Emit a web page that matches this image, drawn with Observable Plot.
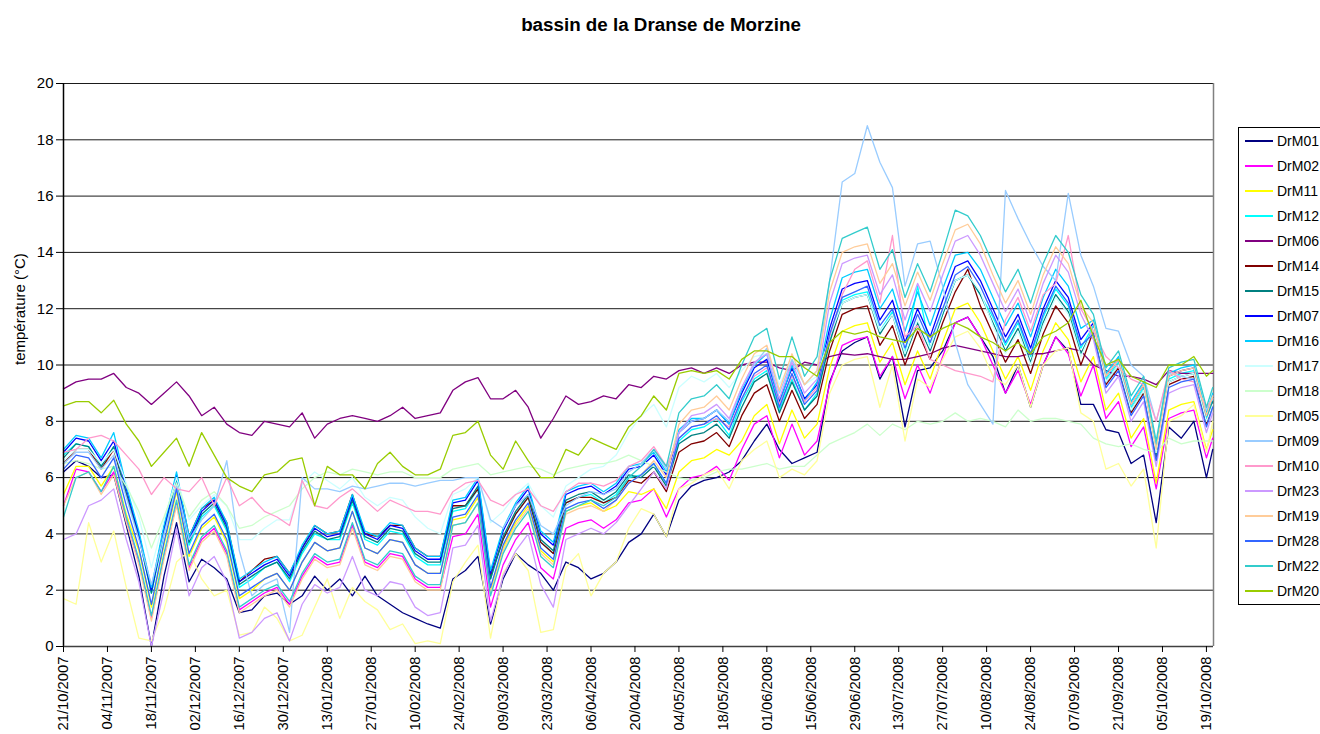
<!DOCTYPE html>
<html><head><meta charset="utf-8">
<script src="https://cdn.jsdelivr.net/npm/d3@7"></script>
<script src="https://cdn.jsdelivr.net/npm/@observablehq/plot@0.6"></script>
<style>
html,body{margin:0;padding:0;background:#fff;overflow:hidden;}
body{width:1320px;height:734px;position:relative;font-family:"Liberation Sans",Arial,sans-serif;color:#000;}
#title{position:absolute;left:0;top:0;width:1322px;height:50px;line-height:50px;text-align:center;font-weight:bold;font-size:18.8px;}
#chart{position:absolute;left:0;top:60px;}
#legend{position:absolute;left:1238px;top:127px;width:120px;height:478px;border:1px solid #000;background:#fff;box-sizing:border-box;}
.item{position:absolute;left:0;height:20px;width:120px;}
.item .sw{position:absolute;left:6px;top:9px;width:28px;height:2px;}
.item .lb{position:absolute;left:38px;top:0;line-height:20px;font-size:14px;}
</style></head>
<body>
<div id="title">bassin de la Dranse de Morzine</div>
<div id="chart"></div>
<div id="legend"></div>
<script>
// Series names and colours (legend order)
const seriesNames = ["DrM01","DrM02","DrM11","DrM12","DrM06","DrM14","DrM15","DrM07","DrM16","DrM17","DrM18","DrM05","DrM09","DrM10","DrM23","DrM19","DrM28","DrM22","DrM20"];
const seriesColors = ["#000080","#FF00FF","#FFFF00","#00FFFF","#800080","#800000","#008080","#0000FF","#00CCFF","#CCFFFF","#CCFFCC","#FFFF99","#99CCFF","#FF99CC","#CC99FF","#FFCC99","#3366FF","#33CCCC","#99CC00"];

// Tick labels of the date axis
const tickLabels = ["21/10/2007","04/11/2007","18/11/2007","02/12/2007","16/12/2007","30/12/2007","13/01/2008","27/01/2008","10/02/2008","24/02/2008","09/03/2008","23/03/2008","06/04/2008","20/04/2008","04/05/2008","18/05/2008","01/06/2008","15/06/2008","29/06/2008","13/07/2008","27/07/2008","10/08/2008","24/08/2008","07/09/2008","21/09/2008","05/10/2008","19/10/2008"];
const yTicks = [0,2,4,6,8,10,12,14,16,18,20];

// Sampling grid: days after 21/10/2007 (every 4 days, last at day 366)
const sampleDays = [0,4,8,12,16,20,24,28,32,36,40,44,48,52,56,60,64,68,72,76,80,84,88,92,96,100,104,108,112,116,120,124,128,132,136,140,144,148,152,156,160,164,168,172,176,180,184,188,192,196,200,204,208,212,216,220,224,228,232,236,240,244,248,252,256,260,264,268,272,276,280,284,288,292,296,300,304,308,312,316,320,324,328,332,336,340,344,348,352,356,360,364,366];

// Temperatures (°C)
const DrM01 = [6.2,6.6,6.4,6.0,6.1,4.3,2.5,0.0,2.5,4.4, 2.3,3.1,2.8,2.4,1.2,1.3,1.8,1.9,1.5,1.8, 2.5,2.0,2.4,1.8,2.5,1.8,1.5,1.2,1.0,0.8, 0.65,2.4,2.7,3.2,0.8,2.4,3.3,2.9,2.6,2.0, 3.0,2.8,2.4,2.6,3.0,3.7,4.0,4.7,3.9,5.2, 5.7,5.9,6.0,6.2,6.6,7.3,7.9,7.0,6.5,6.7, 6.9,9.4,10.5,10.8,11.0,9.5,10.3,7.8,9.8,9.9, 10.5,11.5,11.7,11.0, 10.3,9.0,10.0,8.5,10.0,11.0,10.5,8.6,8.6,7.7,7.6,6.5,6.8,4.4,7.8,7.4,8.0,6.0,7.0];
const DrM02 = [5.0,6.3,6.2,5.5,6.2,4.5,3.0,1.0,3.2,5.1, 2.8,3.8,4.2,3.3,1.3,1.6,1.9,2.1,1.5,2.5, 3.2,2.9,3.0,4.3,3.0,2.8,3.3,3.2,2.4,2.1, 2.1,3.9,4.0,4.7,1.4,2.9,3.8,4.4,2.8,2.4, 4.2,4.4,4.5,4.2,4.5,5.1,5.2,5.6,4.6,5.6, 6.0,6.1,6.4,5.9,7.0,7.9,8.2,6.7,7.9,6.8, 7.3,9.3,10.7,10.9,11.0,9.6,10.3,8.8,10.0,9.0, 10.3,11.5,11.7,11.0, 10.0,9.0,9.8,8.6,10.0,11.0,10.4,8.9,10.0,8.1,8.7,7.1,7.8,5.6,8.1,8.3,8.4,6.7,7.4];
const DrM11 = [5.4,6.4,6.4,5.7,6.4,4.7,3.4,1.4,3.6,5.5, 3.2,4.2,4.6,3.7,1.7,2.0,2.4,2.6,2.0,3.0, 3.7,3.4,3.5,4.8,3.5,3.3,3.8,3.7,2.9,2.6, 2.6,4.5,4.6,5.3,2.0,3.5,4.4,5.0,3.4,3.0, 4.8,5.0,5.1,4.8,5.0,5.5,5.4,5.6,4.9,6.2, 6.6,6.7,7.0,6.8,7.3,8.2,8.6,7.2,8.4,7.4, 7.9,9.9,11.2,11.4,11.5,10.1,10.8,9.3,10.5,9.5, 10.8,12.0,12.2,11.5, 10.5,9.5,10.3,9.1,10.5,11.5,10.9,9.4,10.3,8.4,9.0,7.4,8.1,5.8,8.4,8.6,8.7,7.0,7.7];
const DrM12 = [6.8,7.2,7.1,6.4,7.1,5.4,3.9,1.9,4.0,5.9, 3.6,4.6,5.0,4.1,2.1,2.4,2.8,3.0,2.3,3.3, 4.0,3.8,3.8,5.1,3.8,3.6,4.1,4.0,3.2,2.9, 2.9,4.8,4.9,5.6,2.4,3.8,4.7,5.3,3.7,3.3, 5.1,5.3,5.4,5.1,5.4,6.0,6.1,6.5,5.8,7.3, 7.7,7.8,8.1,7.5,8.7,9.5,9.8,8.4,9.5,8.4, 9.0,10.9,12.3,12.5,12.6,11.2,11.9,10.4,12.8,10.6, 11.8,13.0,13.2,12.5, 11.7,10.7,11.5,10.3,11.7,12.7,12.1,10.6,11.4,9.5,10.1,8.5,9.2,6.9,9.5,9.7,9.8,8.1,8.8];
const DrM06 = [9.15,9.4,9.5,9.5,9.7,9.2,9.0,8.6,9.0,9.4, 8.9,8.2,8.5,7.9,7.6,7.5,8.0,7.9,7.8,8.3, 7.4,7.9,8.1,8.2,8.1,8.0,8.2,8.5,8.1,8.2, 8.3,9.1,9.4,9.55,8.8,8.8,9.1,8.5,7.4,8.1, 8.9,8.6,8.7,8.9,8.8,9.3,9.2,9.6,9.5,9.8, 9.9,9.7,9.9,9.7,10.0,10.1,10.1,9.9,9.8,10.1, 10.0,10.3,10.4,10.35,10.4,10.3,10.2,10.2,10.3,10.4, 10.6,10.7,10.6,10.5,10.4,10.3,10.3,10.4,10.4,10.5, 10.6,10.5,10.0,9.8,9.6,9.6,9.5,9.3,9.8,9.7, 9.7,9.7,9.7];
const DrM14 = [6.5,7.0,7.0,6.3,7.0,5.4,4.0,2.0,4.2,6.1, 3.9,4.9,5.2,4.4,2.3,2.7,3.1,3.2,2.6,3.5, 4.3,4.0,4.1,5.4,4.0,3.9,4.3,4.3,3.5,3.2, 3.2,5.0,5.0,5.6,2.5,3.8,4.7,5.3,3.7,3.3, 5.1,5.3,5.3,5.1,5.3,5.9,5.8,6.2,5.5,6.9, 7.2,7.3,7.6,7.1,8.2,9.0,9.3,8.0,9.1,8.1, 8.6,10.5,11.8,12.0,12.1,10.7,11.4,10.0,11.2,10.2, 11.5,12.6,13.4,12.1, 11.1,10.1,10.9,9.7,11.1,12.1,11.5,10.0,11.2,9.3,9.9,8.3,9.0,6.7,9.3,9.5,9.6,7.9,8.6];
const DrM15 = [6.7,7.2,7.1,6.4,7.1,5.4,3.9,1.9,4.1,6.0, 3.7,4.7,5.1,4.2,2.2,2.5,2.8,3.0,2.4,3.4, 4.1,3.8,3.9,5.2,3.9,3.7,4.2,4.1,3.3,3.0, 3.0,4.9,5.0,5.7,2.4,3.9,4.8,5.4,3.8,3.4, 5.2,5.4,5.5,5.2,5.5,6.1,6.0,6.4,5.7,7.2, 7.5,7.6,7.9,7.4,8.5,9.4,9.7,8.3,9.4,8.4, 8.9,10.8,12.2,12.4,12.5,11.1,11.8,10.3,11.5,10.5, 11.8,13.0,13.2,12.5, 11.5,10.5,11.3,10.1,11.5,12.5,11.9,10.4,11.3,9.4,10.0,8.4,9.1,6.8,9.4,9.6,9.7,8.0,8.7];
const DrM07 = [6.9,7.4,7.3,6.6,7.3,5.6,4.0,2.0,4.2,6.1, 3.8,4.8,5.2,4.3,2.3,2.6,2.9,3.1,2.5,3.5, 4.2,3.9,4.0,5.3,4.0,3.8,4.3,4.2,3.4,3.1, 3.1,5.1,5.2,5.9,2.6,4.1,5.0,5.6,4.0,3.6, 5.4,5.6,5.7,5.4,5.7,6.3,6.4,6.8,6.1,7.6, 8.0,8.1,8.4,7.9,9.0,9.9,10.2,8.7,9.9,8.8, 9.3,11.3,12.7,12.9,13.0,11.6,12.3,10.8,12.0,11.0, 12.3,13.5,13.7,13.0, 12.0,11.0,11.8,10.6,12.0,13.0,12.4,10.9,11.5,9.6,10.2,8.6,9.3,7.0,9.6,9.8,9.9,8.2,8.9];
const DrM16 = [7.0,7.5,7.4,6.7,7.6,5.7,4.1,2.1,4.3,6.2, 3.9,4.9,5.3,4.4,2.4,2.7,3.0,3.2,2.6,3.6, 4.3,4.0,4.1,5.4,4.1,3.9,4.4,4.3,3.5,3.2, 3.2,5.2,5.3,6.0,2.7,4.2,5.1,5.7,4.1,3.7, 5.5,5.7,5.8,5.5,5.8,6.4,6.5,6.9,6.2,7.7, 8.1,8.1,8.4,7.9,9.1,10.0,10.4,8.6,10.0,8.7, 9.4,11.6,13.1,13.3,13.4,12.0,12.7,11.2,12.6,11.4, 12.7,13.9,14.0,13.4, 12.4,11.4,12.2,11.0,12.4,13.4,12.8,11.3,11.6,9.7,10.3,8.7,9.4,7.1,9.7,9.9,10.0,8.3,9.0];
const DrM17 = [6.6,7.0,7.0,6.5,7.0,5.8,4.6,2.8,4.5,6.0, 4.5,5.0,5.4,5.0,3.8,3.8,4.2,4.5,4.5,5.8, 6.2,5.9,5.6,6.0,5.3,5.0,5.3,5.2,4.6,4.2, 4.0,5.4,5.6,6.0,4.4,4.8,5.4,5.8,5.0,4.6, 5.7,6.0,6.3,6.4,6.8,7.6,8.2,8.6,7.8,9.2, 9.6,9.4,9.7,9.2,9.8,10.3,10.4,9.3,10.2,9.3, 9.6,11.0,12.2,12.4,12.5,11.2,11.8,10.4,11.6,10.6, 11.9,13.0,13.2,12.6, 11.4,10.4,11.2,10.0,11.4,12.4,11.8,10.3,11.3,9.4,10.0,8.4,9.1,6.9,9.4,9.6,9.7,8.0,8.6];
const DrM18 = [6.5,6.6,6.5,6.3,6.4,5.7,4.8,3.5,4.6,5.8, 4.6,5.2,5.5,5.0,4.2,4.3,4.6,4.8,5.0,5.6, 6.0,6.2,6.1,6.3,6.2,6.1,6.2,6.2,6.0,6.0, 6.0,6.3,6.4,6.5,6.1,6.2,6.3,6.4,6.3,6.1, 6.3,6.4,6.5,6.5,6.6,6.8,6.6,6.4,6.2,6.0, 5.9,6.0,6.2,6.3,6.3,6.4,6.5,6.3,6.4,6.4, 6.8,7.2,7.4,7.6,7.9,7.5,7.9,7.7,8.0,7.9, 8.0,8.3,8.0,8.1,8.0,7.8,8.4,8.0,8.1,8.1, 8.0,7.9,7.4,7.2,7.1,7.2,7.0,6.9,7.4,7.2, 7.3,7.3,7.3];
const DrM05 = [1.7,1.5,4.4,3.0,4.1,2.1,0.3,0.2,1.3,3.0, 3.4,2.4,1.8,2.0,0.4,0.5,1.4,1.0,0.2,0.4, 1.4,2.4,1.0,2.1,1.6,1.3,0.6,0.8,0.1,0.2, 0.1,2.3,3.0,3.6,0.3,2.6,3.3,2.7,0.5,0.6, 2.8,3.3,1.8,2.6,3.0,4.2,4.9,4.7,3.9,5.6, 5.8,6.1,6.3,5.6,6.6,7.0,7.3,6.0,6.3,6.1, 6.6,9.0,10.0,10.2,10.3,8.5,10.0,7.3,9.5,9.2, 10.2,11.0,11.2,10.6, 9.6,9.3,10.0,8.5,10.0,10.5,10.6,8.3,8.0,6.3,6.5,5.7,6.3,3.5,8.0,8.2,8.6,6.9,8.0];
const DrM09 = [6.5,6.9,6.9,6.3,6.8,5.3,3.8,2.2,4.0,5.7, 3.8,4.5,5.0,6.6,3.4,1.8,2.2,2.4,0.5,6.0, 5.6,5.6,5.5,5.7,5.6,5.7,5.8,5.8,5.7,5.8, 5.9,5.9,6.0,6.0,4.5,4.2,5.0,5.4,4.3,4.0, 5.0,5.3,5.5,5.4,5.6,6.2,6.5,7.0,6.3,7.6, 8.0,8.1,8.4,8.0,9.2,10.0,10.6,9.0,10.2,9.3, 9.8,13.0,16.5,16.8,18.5,17.2,16.3,12.8,14.3,14.4, 12.8,10.8,9.3,8.6,7.9,16.2,15.2,14.3,13.5,13.0, 16.1,13.9,12.8,11.3,11.2,10.0,9.6,8.0,9.7,9.6, 9.5,8.4,8.9];
const DrM10 = [6.9,7.0,7.4,7.5,7.3,6.8,6.3,5.4,6.0,5.6, 5.5,6.0,5.0,6.0,5.0,5.3,4.8,4.6,4.3,5.9, 5.0,4.9,5.3,5.6,5.2,4.8,5.2,5.0,4.8,4.8, 4.7,5.5,5.8,5.9,5.2,5.0,5.4,5.6,5.0,4.8, 5.5,5.8,5.8,5.7,5.9,6.4,6.6,7.1,6.4,7.4, 7.8,7.9,8.1,7.8,8.8,9.6,9.9,8.6,9.6,8.7, 9.2,11.0,12.5,13.4,13.7,12.2,14.6,11.0,11.4,10.2, 10.0,9.8,9.7,9.6,9.4,11.6,12.4,11.2,12.5,12.9, 14.6,12.0,11.2,10.3,9.9,9.5,9.3,8.0,9.8,9.5, 9.4,8.5,8.8];
const DrM23 = [3.8,4.0,5.0,5.2,5.6,3.8,2.3,0.0,2.0,4.2, 1.8,2.8,3.2,2.3,0.3,0.5,1.0,1.2,0.2,1.5, 2.2,1.9,2.1,3.2,2.0,1.8,2.3,2.2,1.4,1.1, 1.2,3.5,3.6,4.3,0.9,2.5,3.4,4.0,2.2,1.4, 3.8,4.0,4.2,4.0,4.4,5.0,5.6,6.2,5.6,7.6, 8.2,8.3,8.6,8.1,9.2,10.1,10.4,8.8,10.1,9.0, 9.5,12.2,13.6,13.8,13.9,12.5,13.2,11.6,12.9,11.9, 13.2,14.4,14.6,13.9, 12.9,11.9,12.7,11.5,12.9,13.9,13.3,11.8,10.9,9.0,9.6,8.0,8.7,6.4,9.0,9.2,9.3,7.6,8.3];
const DrM19 = [5.0,6.0,6.2,5.4,6.1,4.4,2.9,0.9,3.1,5.0, 2.7,3.7,4.1,3.2,1.2,1.5,1.8,2.0,1.4,2.4, 3.1,2.8,2.9,4.2,2.9,2.7,3.2,3.1,2.3,2.0, 2.0,4.3,4.4,5.1,1.9,3.4,4.3,4.9,3.3,2.9, 4.7,4.9,5.0,4.8,5.2,5.8,6.1,6.6,6.0,7.9, 8.4,8.5,8.9,8.4,9.5,10.4,10.7,9.1,10.4,9.3, 9.8,12.6,14.0,14.2,14.3,12.9,13.6,12.1,13.3,12.3, 13.6,14.8,15.0,14.3, 13.2,12.2,13.0,11.8,13.2,14.2,13.6,12.1,11.5,9.6,10.2,8.6,9.3,7.0,9.6,9.8,9.9,8.2,8.9];
const DrM28 = [6.3,6.8,6.7,6.0,6.7,5.0,3.5,1.5,3.7,5.6, 3.3,4.3,4.7,3.8,1.8,2.1,2.4,2.6,2.0,3.0, 3.7,3.4,3.5,4.8,3.5,3.3,3.8,3.7,2.9,2.6, 2.6,4.6,4.7,5.4,2.1,3.6,4.5,5.1,3.5,3.1, 4.9,5.1,5.2,4.9,5.2,5.8,6.1,6.5,5.8,7.4, 7.8,7.9,8.2,7.7,8.8,9.7,10.0,8.5,9.7,8.6, 9.1,11.1,12.4,12.6,12.8,11.4,12.0,10.6,11.8,10.8, 12.0,13.2,13.5,12.8, 11.8,10.8,11.6,10.4,11.8,12.8,12.2,10.7,11.1,9.2,9.8,8.2,8.9,6.6,9.2,9.4,9.5,7.8,8.5];
const DrM22 = [4.6,6.0,6.2,5.5,6.4,4.6,3.1,1.1,3.3,5.2, 2.9,3.9,4.3,3.4,1.4,1.7,2.0,2.2,1.6,2.6, 3.3,3.0,3.1,4.4,3.1,2.9,3.4,3.3,2.5,2.2, 2.2,4.3,4.4,5.1,1.8,3.3,4.2,4.8,3.2,2.8, 4.8,5.0,5.2,5.0,5.3,6.0,6.4,7.0,6.4,8.3, 8.8,8.9,9.3,8.8,10.0,11.0,11.3,9.5,11.0,9.6, 10.3,13.0,14.5,14.7,14.9,13.4,14.1,12.4,13.6,12.6, 14.0,15.5,15.3,14.6, 13.6,12.6,13.4,12.2,13.6,14.6,14.0,12.5,11.8,9.9,10.5,8.9,9.6,7.3,9.9,10.1,10.2,8.5,9.2];
const DrM20 = [8.55,8.7,8.7,8.3,8.75,7.9,7.3,6.4,6.9,7.4, 6.4,7.6,6.8,6.0,5.7,5.5,6.1,6.2,6.6,6.7, 5.0,6.4,6.1,6.1,5.6,6.5,6.9,6.4,6.1,6.1, 6.3,7.5,7.6,8.0,6.8,6.3,7.3,6.6,6.0,6.0, 7.0,6.8,7.4,7.2,7.0,7.8,8.2,8.9,8.4,9.7, 9.8,9.7,9.8,9.5,10.2,10.5,10.5,10.3,10.3,9.9, 9.6,10.8,11.2,11.1,11.2,11.0,10.9,10.8,11.3,11.0, 11.3,11.5,11.3,11.0, 10.8,10.5,10.8,10.4,11.0,11.2,11.5,12.3,11.0,10.0,10.2,9.6,9.4,9.2,10.0,10.0,10.3,9.6,9.8];

const seriesValues = [DrM01,DrM02,DrM11,DrM12,DrM06,DrM14,DrM15,DrM07,DrM16,DrM17,DrM18,DrM05,DrM09,DrM10,DrM23,DrM19,DrM28,DrM22,DrM20];
seriesValues.forEach((a,k) => { if (a.length !== sampleDays.length) throw new Error(seriesNames[k] + " has " + a.length + " values, expected " + sampleDays.length); });

const start = new Date(Date.UTC(2007, 9, 21));
const end = new Date(Date.UTC(2007, 9, 21) + 366.25 * 864e5);
const sampleDates = sampleDays.map(d => new Date(start.getTime() + d * 864e5));
const parseTick = d3.utcParse("%d/%m/%Y");
const tickDates = tickLabels.map(parseTick);

const rows = seriesNames.flatMap((name, k) => seriesValues[k].map((v, i) => ({series: name, date: sampleDates[i], value: v})));

const chart = Plot.plot({
  width: 1320,
  height: 674,
  marginTop: 23,
  marginBottom: 88,
  marginLeft: 63,
  marginRight: 107,
  style: {fontFamily: "'Liberation Sans', Arial, sans-serif", fontSize: "14px", color: "#000", background: "transparent", overflow: "visible"},
  x: {type: "utc", domain: [start, end]},
  y: {domain: [0, 20]},
  color: {domain: seriesNames, range: seriesColors},
  marks: [
    Plot.ruleY(yTicks.filter(t => t > 0), {stroke: "#1a1a1a", strokeWidth: 1}),
    Plot.ruleX([end], {stroke: "#808080", strokeWidth: 1.5}),
    Plot.line(rows, {x: "date", y: "value", z: "series", stroke: "series", strokeWidth: 1.3, curve: "linear"}),
    Plot.ruleX([start], {stroke: "#000", strokeWidth: 1.5}),
    Plot.ruleY([0], {stroke: "#404040", strokeWidth: 1.5}),
    Plot.axisY(yTicks, {anchor: "left", tickSize: 7, tickPadding: 3, fontSize: 15, label: null, tickFormat: d => String(d)}),
    Plot.axisX(tickDates, {anchor: "bottom", tickFormat: d3.utcFormat("%d/%m/%Y"), tickRotate: -90, tickSize: 6, tickPadding: 4, fontSize: 14.8, label: null}),
    Plot.text(["température (°C)"], {frameAnchor: "left", dx: -43, rotate: -90, fontSize: 15, fill: "#000"})
  ]
});
document.getElementById("chart").appendChild(chart);

// Legend
const legend = document.getElementById("legend");
seriesNames.forEach((name, k) => {
  const item = document.createElement("div");
  item.className = "item";
  item.style.top = (3 + 25 * k) + "px";
  const sw = document.createElement("div");
  sw.className = "sw";
  sw.style.background = seriesColors[k];
  const lb = document.createElement("div");
  lb.className = "lb";
  lb.textContent = name;
  item.appendChild(sw);
  item.appendChild(lb);
  legend.appendChild(item);
});
</script>
</body></html>
